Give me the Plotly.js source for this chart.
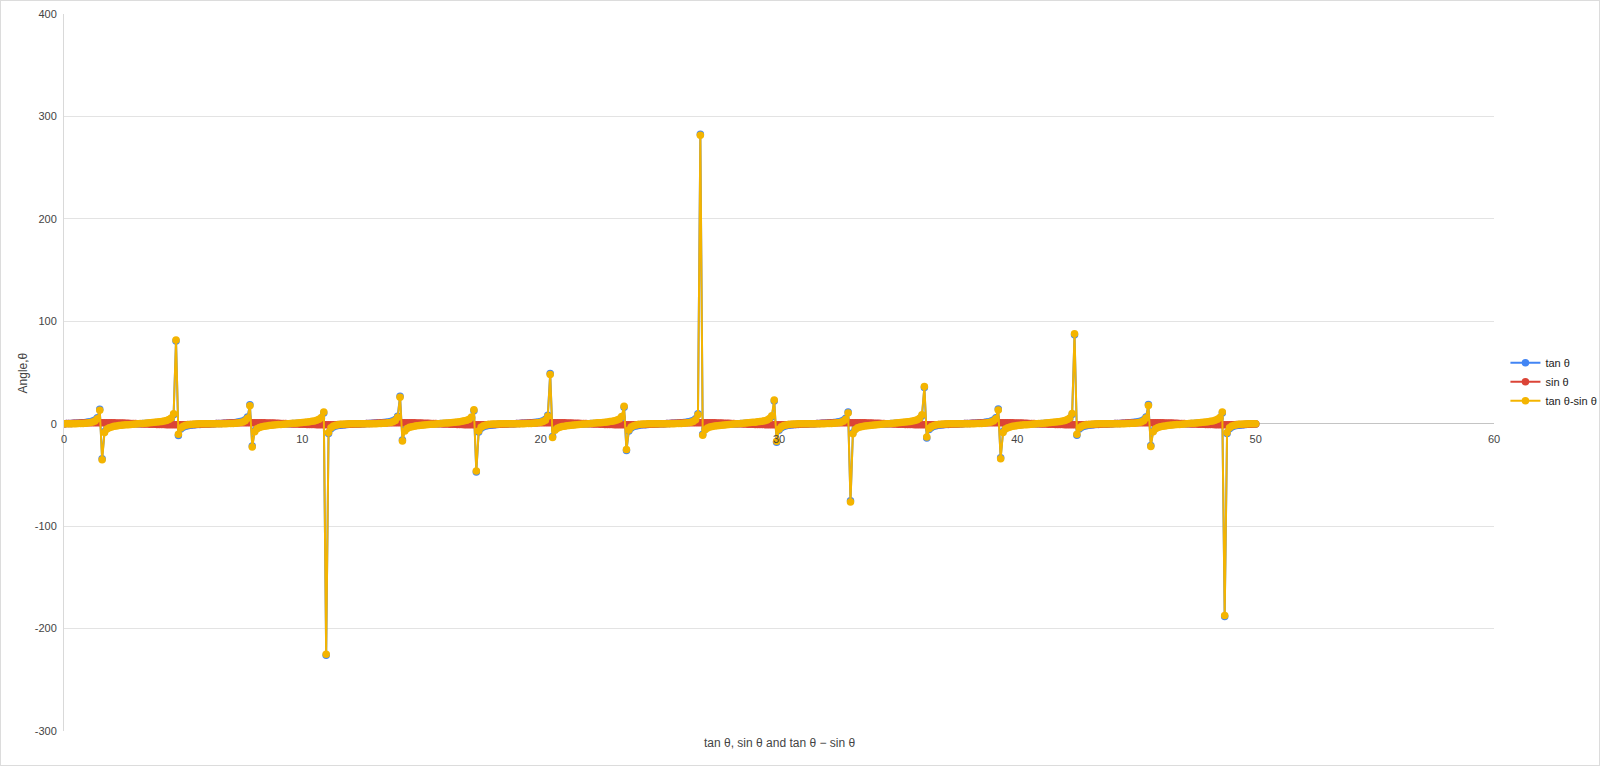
<!DOCTYPE html>
<html>
<head>
<meta charset="utf-8">
<script src="https://cdn.plot.ly/plotly-3.0.1.min.js"></script>
<style>
  body { margin: 0; background: #fff; }
  #chart { width: 1598px; height: 764px; border: 1px solid #dcdcdc; }
</style>
</head>
<body>
<div id="chart"></div>
<script>
// angle in radians, step 0.1
var theta = [
  0,0.1,0.2,0.3,0.4,0.5,0.6,0.7,0.8,0.9,
  1,1.1,1.2,1.3,1.4,1.5,1.6,1.7,1.8,1.9,
  2,2.1,2.2,2.3,2.4,2.5,2.6,2.7,2.8,2.9,
  3,3.1,3.2,3.3,3.4,3.5,3.6,3.7,3.8,3.9,
  4,4.1,4.2,4.3,4.4,4.5,4.6,4.7,4.8,4.9,
  5,5.1,5.2,5.3,5.4,5.5,5.6,5.7,5.8,5.9,
  6,6.1,6.2,6.3,6.4,6.5,6.6,6.7,6.8,6.9,
  7,7.1,7.2,7.3,7.4,7.5,7.6,7.7,7.8,7.9,
  8,8.1,8.2,8.3,8.4,8.5,8.6,8.7,8.8,8.9,
  9,9.1,9.2,9.3,9.4,9.5,9.6,9.7,9.8,9.9,
  10,10.1,10.2,10.3,10.4,10.5,10.6,10.7,10.8,10.9,
  11,11.1,11.2,11.3,11.4,11.5,11.6,11.7,11.8,11.9,
  12,12.1,12.2,12.3,12.4,12.5,12.6,12.7,12.8,12.9,
  13,13.1,13.2,13.3,13.4,13.5,13.6,13.7,13.8,13.9,
  14,14.1,14.2,14.3,14.4,14.5,14.6,14.7,14.8,14.9,
  15,15.1,15.2,15.3,15.4,15.5,15.6,15.7,15.8,15.9,
  16,16.1,16.2,16.3,16.4,16.5,16.6,16.7,16.8,16.9,
  17,17.1,17.2,17.3,17.4,17.5,17.6,17.7,17.8,17.9,
  18,18.1,18.2,18.3,18.4,18.5,18.6,18.7,18.8,18.9,
  19,19.1,19.2,19.3,19.4,19.5,19.6,19.7,19.8,19.9,
  20,20.1,20.2,20.3,20.4,20.5,20.6,20.7,20.8,20.9,
  21,21.1,21.2,21.3,21.4,21.5,21.6,21.7,21.8,21.9,
  22,22.1,22.2,22.3,22.4,22.5,22.6,22.7,22.8,22.9,
  23,23.1,23.2,23.3,23.4,23.5,23.6,23.7,23.8,23.9,
  24,24.1,24.2,24.3,24.4,24.5,24.6,24.7,24.8,24.9,
  25,25.1,25.2,25.3,25.4,25.5,25.6,25.7,25.8,25.9,
  26,26.1,26.2,26.3,26.4,26.5,26.6,26.7,26.8,26.9,
  27,27.1,27.2,27.3,27.4,27.5,27.6,27.7,27.8,27.9,
  28,28.1,28.2,28.3,28.4,28.5,28.6,28.7,28.8,28.9,
  29,29.1,29.2,29.3,29.4,29.5,29.6,29.7,29.8,29.9,
  30,30.1,30.2,30.3,30.4,30.5,30.6,30.7,30.8,30.9,
  31,31.1,31.2,31.3,31.4,31.5,31.6,31.7,31.8,31.9,
  32,32.1,32.2,32.3,32.4,32.5,32.6,32.7,32.8,32.9,
  33,33.1,33.2,33.3,33.4,33.5,33.6,33.7,33.8,33.9,
  34,34.1,34.2,34.3,34.4,34.5,34.6,34.7,34.8,34.9,
  35,35.1,35.2,35.3,35.4,35.5,35.6,35.7,35.8,35.9,
  36,36.1,36.2,36.3,36.4,36.5,36.6,36.7,36.8,36.9,
  37,37.1,37.2,37.3,37.4,37.5,37.6,37.7,37.8,37.9,
  38,38.1,38.2,38.3,38.4,38.5,38.6,38.7,38.8,38.9,
  39,39.1,39.2,39.3,39.4,39.5,39.6,39.7,39.8,39.9,
  40,40.1,40.2,40.3,40.4,40.5,40.6,40.7,40.8,40.9,
  41,41.1,41.2,41.3,41.4,41.5,41.6,41.7,41.8,41.9,
  42,42.1,42.2,42.3,42.4,42.5,42.6,42.7,42.8,42.9,
  43,43.1,43.2,43.3,43.4,43.5,43.6,43.7,43.8,43.9,
  44,44.1,44.2,44.3,44.4,44.5,44.6,44.7,44.8,44.9,
  45,45.1,45.2,45.3,45.4,45.5,45.6,45.7,45.8,45.9,
  46,46.1,46.2,46.3,46.4,46.5,46.6,46.7,46.8,46.9,
  47,47.1,47.2,47.3,47.4,47.5,47.6,47.7,47.8,47.9,
  48,48.1,48.2,48.3,48.4,48.5,48.6,48.7,48.8,48.9,
  49,49.1,49.2,49.3,49.4,49.5,49.6,49.7,49.8,49.9,
  50
];

var tanVals = [
  0,0.10,0.20,0.31,0.42,0.55,0.68,0.84,1.03,1.26,1.56,1.96,2.57,3.60,5.80,14.10,
  -34.23,-7.70,-4.29,-2.93,-2.19,-1.71,-1.37,-1.12,-0.92,-0.75,-0.60,-0.47,-0.36,-0.25,-0.14,-0.04,
  0.06,0.16,0.26,0.37,0.49,0.62,0.77,0.95,1.16,1.42,1.78,2.29,3.10,4.64,8.86,80.71,
  -11.39,-5.27,-3.38,-2.45,-1.89,-1.50,-1.22,-1.00,-0.81,-0.66,-0.52,-0.40,-0.29,-0.19,-0.08,
  0.02,0.12,0.22,0.33,0.44,0.57,0.71,0.87,1.06,1.30,1.62,2.05,2.71,3.85,6.44,18.51,
  -21.71,-6.80,-3.98,-2.77,-2.09,-1.65,-1.33,-1.08,-0.89,-0.72,-0.58,-0.45,-0.34,-0.23,-0.13,-0.02,
  0.08,0.18,0.28,0.39,0.51,0.65,0.80,0.98,1.20,1.48,1.85,2.39,3.28,5.05,10.43,
  -225.95,-9.54,-4.82,-3.18,-2.34,-1.81,-1.45,-1.18,-0.96,-0.79,-0.64,-0.50,-0.38,-0.27,-0.17,-0.07,
  0.03,0.13,0.24,0.35,0.46,0.59,0.74,0.90,1.10,1.35,1.68,2.14,2.85,4.14,7.24,26.89,
  -15.89,-6.09,-3.72,-2.63,-2.00,-1.58,-1.28,-1.05,-0.86,-0.70,-0.56,-0.43,-0.32,-0.21,-0.11,-0.01,
  0.09,0.19,0.30,0.41,0.54,0.67,0.83,1.01,1.24,1.53,1.93,2.51,3.49,5.53,12.67,
  -47.07,-8.21,-4.45,-3.01,-2.23,-1.74,-1.40,-1.14,-0.93,-0.76,-0.61,-0.48,-0.36,-0.25,-0.15,-0.05,
  0.05,0.15,0.26,0.37,0.48,0.61,0.76,0.93,1.14,1.40,1.75,2.24,3.01,4.46,8.27,49.13,
  -12.53,-5.51,-3.48,-2.51,-1.92,-1.53,-1.24,-1.01,-0.83,-0.67,-0.53,-0.41,-0.30,-0.19,-0.09,
  0.01,0.11,0.21,0.32,0.43,0.56,0.70,0.86,1.05,1.28,1.59,2.01,2.64,3.73,6.12,16.12,
  -26.27,-7.20,-4.12,-2.84,-2.13,-1.68,-1.35,-1.10,-0.90,-0.73,-0.59,-0.46,-0.35,-0.24,-0.13,-0.03,
  0.07,0.17,0.27,0.38,0.50,0.64,0.79,0.96,1.18,1.45,1.82,2.34,3.19,4.85,9.62,282.68,
  -10.33,-5.02,-3.27,-2.39,-1.85,-1.47,-1.20,-0.98,-0.80,-0.65,-0.51,-0.39,-0.28,-0.18,-0.07,
  0.03,0.13,0.23,0.34,0.45,0.58,0.72,0.89,1.08,1.33,1.65,2.10,2.78,4.00,6.84,22.14,
  -18.21,-6.41,-3.84,-2.70,-2.04,-1.61,-1.30,-1.06,-0.87,-0.71,-0.57,-0.44,-0.33,-0.22,-0.12,-0.02,
  0.08,0.19,0.29,0.40,0.53,0.66,0.82,1.00,1.22,1.50,1.89,2.46,3.39,5.29,11.50,
  -75.31,-8.79,-4.62,-3.09,-2.28,-1.77,-1.42,-1.16,-0.95,-0.77,-0.62,-0.49,-0.37,-0.26,-0.16,-0.06,
  0.04,0.14,0.25,0.36,0.47,0.60,0.75,0.92,1.12,1.38,1.71,2.19,2.94,4.30,7.75,35.31,
  -13.93,-5.77,-3.59,-2.57,-1.96,-1.55,-1.26,-1.03,-0.84,-0.68,-0.54,-0.42,-0.31,-0.20,-0.10,
  0.00,0.10,0.20,0.31,0.42,0.55,0.69,0.84,1.03,1.26,1.56,1.97,2.58,3.61,5.83,14.28,
  -33.22,-7.64,-4.27,-2.92,-2.18,-1.71,-1.37,-1.12,-0.91,-0.75,-0.60,-0.47,-0.35,-0.25,-0.14,-0.04,
  0.06,0.16,0.27,0.38,0.49,0.63,0.77,0.95,1.16,1.43,1.78,2.29,3.11,4.66,8.93,86.95,
  -11.27,-5.24,-3.37,-2.44,-1.88,-1.50,-1.21,-0.99,-0.81,-0.66,-0.52,-0.40,-0.29,-0.18,-0.08,
  0.02,0.12,0.22,0.33,0.44,0.57,0.71,0.87,1.07,1.31,1.62,2.05,2.71,3.87,6.48,18.82,
  -21.30,-6.76,-3.97,-2.77,-2.09,-1.64,-1.32,-1.08,-0.88,-0.72,-0.58,-0.45,-0.34,-0.23,-0.12,-0.02,
  0.08,0.18,0.28,0.39,0.52,0.65,0.80,0.98,1.20,1.48,1.85,2.40,3.29,5.07,10.53,
  -188.19,-9.46,-4.80,-3.17,-2.33,-1.81,-1.44,-1.17,-0.96,-0.78,-0.63,-0.50,-0.38,-0.27
];

var sinVals = [
  0,0.10,0.20,0.30,0.39,0.48,0.56,0.64,0.72,0.78,0.84,0.89,0.93,0.96,0.99,1.00,
  1.00,0.99,0.97,0.95,0.91,0.86,0.81,0.74,0.67,0.60,0.51,0.43,0.33,0.24,0.14,0.04,
  -0.06,-0.16,-0.26,-0.35,-0.44,-0.53,-0.61,-0.69,-0.76,-0.82,-0.87,-0.92,-0.95,-0.98,-0.99,-1.00,
  -1.00,-0.98,-0.96,-0.93,-0.88,-0.83,-0.77,-0.71,-0.63,-0.55,-0.46,-0.37,-0.28,-0.18,-0.08,
  0.02,0.12,0.21,0.31,0.40,0.49,0.58,0.66,0.73,0.79,0.85,0.90,0.94,0.97,0.99,1.00,
  1.00,0.99,0.97,0.94,0.90,0.85,0.80,0.73,0.66,0.58,0.50,0.41,0.32,0.22,0.12,0.02,
  -0.08,-0.17,-0.27,-0.37,-0.46,-0.54,-0.62,-0.70,-0.77,-0.83,-0.88,-0.92,-0.96,-0.98,-1.00,
  -1.00,-0.99,-0.98,-0.95,-0.92,-0.88,-0.82,-0.76,-0.69,-0.62,-0.54,-0.45,-0.36,-0.26,-0.17,-0.07,
  0.03,0.13,0.23,0.33,0.42,0.51,0.59,0.67,0.74,0.80,0.86,0.91,0.94,0.97,0.99,1.00,
  1.00,0.99,0.97,0.93,0.89,0.85,0.79,0.72,0.65,0.57,0.49,0.40,0.30,0.21,0.11,0.01,
  -0.09,-0.19,-0.29,-0.38,-0.47,-0.56,-0.64,-0.71,-0.78,-0.84,-0.89,-0.93,-0.96,-0.98,-1.00,
  -1.00,-0.99,-0.98,-0.95,-0.91,-0.87,-0.81,-0.75,-0.68,-0.60,-0.52,-0.43,-0.34,-0.25,-0.15,-0.05,
  0.05,0.15,0.25,0.34,0.43,0.52,0.60,0.68,0.75,0.81,0.87,0.91,0.95,0.98,0.99,1.00,
  1.00,0.98,0.96,0.93,0.89,0.84,0.78,0.71,0.64,0.56,0.47,0.38,0.29,0.19,0.09,
  -0.01,-0.11,-0.21,-0.30,-0.40,-0.49,-0.57,-0.65,-0.72,-0.79,-0.85,-0.90,-0.94,-0.97,-0.99,-1.00,
  -1.00,-0.99,-0.97,-0.94,-0.91,-0.86,-0.80,-0.74,-0.67,-0.59,-0.51,-0.42,-0.33,-0.23,-0.13,-0.03,
  0.07,0.17,0.26,0.36,0.45,0.54,0.62,0.69,0.76,0.82,0.88,0.92,0.95,0.98,0.99,1.00,
  1.00,0.98,0.96,0.92,0.88,0.83,0.77,0.70,0.62,0.54,0.46,0.37,0.27,0.17,0.07,
  -0.03,-0.13,-0.22,-0.32,-0.41,-0.50,-0.59,-0.66,-0.73,-0.80,-0.86,-0.90,-0.94,-0.97,-0.99,-1.00,
  -1.00,-0.99,-0.97,-0.94,-0.90,-0.85,-0.79,-0.73,-0.66,-0.58,-0.49,-0.40,-0.31,-0.21,-0.12,-0.02,
  0.08,0.18,0.28,0.37,0.47,0.55,0.63,0.71,0.77,0.83,0.88,0.93,0.96,0.98,1.00,
  1.00,0.99,0.98,0.95,0.92,0.87,0.82,0.76,0.69,0.61,0.53,0.44,0.35,0.25,0.16,0.06,
  -0.04,-0.14,-0.24,-0.34,-0.43,-0.52,-0.60,-0.68,-0.75,-0.81,-0.86,-0.91,-0.95,-0.97,-0.99,-1.00,
  -1.00,-0.99,-0.96,-0.93,-0.89,-0.84,-0.78,-0.72,-0.64,-0.56,-0.48,-0.39,-0.29,-0.20,-0.10,
  0.00,0.10,0.20,0.30,0.39,0.48,0.57,0.64,0.72,0.78,0.84,0.89,0.93,0.96,0.99,1.00,
  1.00,0.99,0.97,0.95,0.91,0.86,0.81,0.74,0.67,0.60,0.51,0.43,0.33,0.24,0.14,0.04,
  -0.06,-0.16,-0.26,-0.35,-0.44,-0.53,-0.61,-0.69,-0.76,-0.82,-0.87,-0.92,-0.95,-0.98,-0.99,-1.00,
  -1.00,-0.98,-0.96,-0.93,-0.88,-0.83,-0.77,-0.70,-0.63,-0.55,-0.46,-0.37,-0.28,-0.18,-0.08,
  0.02,0.12,0.22,0.31,0.41,0.49,0.58,0.66,0.73,0.79,0.85,0.90,0.94,0.97,0.99,1.00,
  1.00,0.99,0.97,0.94,0.90,0.85,0.80,0.73,0.66,0.58,0.50,0.41,0.32,0.22,0.12,0.02,
  -0.08,-0.18,-0.27,-0.37,-0.46,-0.54,-0.63,-0.70,-0.77,-0.83,-0.88,-0.92,-0.96,-0.98,-1.00,
  -1.00,-0.99,-0.98,-0.95,-0.92,-0.87,-0.82,-0.76,-0.69,-0.62,-0.54,-0.45,-0.36,-0.26
];

var tanMinusSin = [
  0,0.00,0.00,0.01,0.03,0.07,0.12,0.20,0.31,0.48,0.72,1.07,1.64,2.64,4.81,13.10,
  -35.23,-8.69,-5.26,-3.88,-3.10,-2.57,-2.18,-1.86,-1.59,-1.35,-1.11,-0.90,-0.69,-0.49,-0.28,-0.08,
  0.12,0.32,0.52,0.72,0.93,1.15,1.38,1.64,1.92,2.24,2.65,3.21,4.05,5.62,9.85,81.71,
  -10.39,-4.29,-2.42,-1.52,-1.01,-0.67,-0.45,-0.29,-0.18,-0.11,-0.06,-0.03,-0.01,-0.01,0.00,
  0.00,0.00,0.01,0.02,0.04,0.08,0.13,0.21,0.33,0.51,0.77,1.15,1.77,2.88,5.45,17.51,
  -22.71,-7.79,-4.95,-3.71,-2.99,-2.50,-2.13,-1.81,-1.55,-1.30,-1.08,-0.86,-0.66,-0.45,-0.25,-0.04,
  0.16,0.35,0.55,0.76,0.97,1.19,1.42,1.68,1.97,2.31,2.73,3.31,4.24,6.03,11.43,
  -224.95,-8.55,-3.84,-2.23,-1.42,-0.93,-0.63,-0.42,-0.27,-0.17,-0.10,-0.05,-0.02,-0.01,0.00,0.00,
  0.00,0.00,0.01,0.02,0.04,0.08,0.15,0.23,0.36,0.55,0.82,1.23,1.91,3.17,6.25,25.89,
  -16.89,-7.08,-4.69,-3.56,-2.89,-2.43,-2.07,-1.77,-1.51,-1.27,-1.05,-0.83,-0.62,-0.42,-0.22,-0.02,
  0.18,0.38,0.59,0.79,1.01,1.23,1.47,1.72,2.02,2.37,2.82,3.44,4.45,6.51,13.67,
  -46.07,-7.22,-3.47,-2.06,-1.32,-0.87,-0.59,-0.39,-0.25,-0.16,-0.09,-0.05,-0.02,0.00,0.00,0.00,
  0.00,0.00,0.01,0.03,0.05,0.09,0.16,0.25,0.39,0.59,0.88,1.33,2.06,3.48,7.28,48.13,
  -13.53,-6.49,-4.44,-3.44,-2.81,-2.37,-2.02,-1.72,-1.47,-1.23,-1.00,-0.79,-0.59,-0.38,-0.18,
  0.02,0.22,0.42,0.62,0.83,1.05,1.27,1.51,1.77,2.07,2.44,2.91,3.58,4.70,7.11,17.12,
  -25.27,-6.21,-3.15,-1.90,-1.22,-0.82,-0.55,-0.36,-0.23,-0.14,-0.08,-0.04,-0.02,-0.01,0.00,0.00,
  0.00,0.00,0.01,0.02,0.05,0.10,0.17,0.27,0.42,0.63,0.94,1.42,2.24,3.87,8.63,281.68,
  -11.33,-6.00,-4.23,-3.31,-2.73,-2.30,-1.97,-1.68,-1.42,-1.19,-0.97,-0.76,-0.55,-0.35,-0.14,
  0.06,0.26,0.45,0.66,0.86,1.08,1.31,1.55,1.81,2.13,2.51,3.00,3.72,4.97,7.83,23.14,
  -17.21,-5.42,-2.87,-1.76,-1.14,-0.76,-0.51,-0.33,-0.21,-0.13,-0.08,-0.04,-0.02,-0.01,0.00,0.00,
  0.00,0.01,0.01,0.03,0.06,0.11,0.19,0.29,0.45,0.67,1.01,1.53,2.43,4.31,10.50,
  -76.31,-9.78,-5.60,-4.04,-3.20,-2.64,-2.24,-1.92,-1.64,-1.38,-1.15,-0.93,-0.72,-0.51,-0.32,-0.12,
  0.08,0.28,0.49,0.70,0.90,1.12,1.35,1.60,1.87,2.19,2.57,3.10,3.89,5.27,8.74,36.31,
  -12.93,-4.78,-2.63,-1.64,-1.07,-0.71,-0.48,-0.31,-0.20,-0.12,-0.06,-0.03,-0.02,0.00,0.00,
  0.00,0.00,0.00,0.01,0.03,0.07,0.12,0.20,0.31,0.48,0.72,1.08,1.65,2.65,4.84,13.28,
  -34.22,-8.63,-5.24,-3.87,-3.09,-2.57,-2.18,-1.86,-1.58,-1.35,-1.11,-0.90,-0.68,-0.49,-0.28,-0.08,
  0.12,0.32,0.53,0.73,0.93,1.16,1.38,1.64,1.92,2.25,2.65,3.21,4.06,5.64,9.92,87.95,
  -10.27,-4.26,-2.41,-1.51,-1.00,-0.67,-0.44,-0.29,-0.18,-0.11,-0.06,-0.03,-0.01,0.00,0.00,
  0.00,0.00,0.00,0.02,0.03,0.08,0.13,0.21,0.34,0.52,0.77,1.15,1.77,2.90,5.49,17.82,
  -22.30,-7.75,-4.94,-3.71,-2.99,-2.49,-2.12,-1.81,-1.54,-1.30,-1.08,-0.86,-0.66,-0.45,-0.24,-0.04,
  0.16,0.36,0.55,0.76,0.98,1.19,1.43,1.68,1.97,2.31,2.73,3.32,4.25,6.05,11.53,
  -187.19,-8.47,-3.82,-2.22,-1.41,-0.94,-0.62,-0.41,-0.27,-0.16,-0.09,-0.05,-0.02,-0.01
];

var seriesNames = ['tan θ', 'sin θ', 'tan θ-sin θ'];
var seriesColors = ['#4285f4', '#db4437', '#f4b400'];
var xTicks = [0, 10, 20, 30, 40, 50, 60];
var yTicks = [-300, -200, -100, 0, 100, 200, 300, 400];

var allSeries = [tanVals, sinVals, tanMinusSin];
var data = [];
for (var i = 0; i < allSeries.length; i++) {
  data.push({
    x: theta,
    y: allSeries[i],
    name: seriesNames[i],
    type: 'scatter',
    mode: 'lines+markers',
    line: {color: seriesColors[i], width: 2},
    marker: {color: seriesColors[i], size: 7.5}
  });
}

var textColor = '#444444';

var layout = {
  width: 1598,
  height: 764,
  margin: {l: 63, r: 105, t: 13, b: 34, autoexpand: false},
  paper_bgcolor: '#ffffff',
  plot_bgcolor: '#ffffff',
  font: {family: 'Arial, "Liberation Sans", sans-serif', size: 11, color: textColor},
  showlegend: true,
  hovermode: false,
  xaxis: {
    range: [0, 60],
    tickvals: xTicks,
    ticktext: xTicks.map(String),
    showgrid: false,
    zeroline: false,
    showline: false,
    ticks: '',
    anchor: 'free',
    position: 300 / 700,
    ticklabelstandoff: 7,
    tickfont: {size: 11, color: textColor}
  },
  yaxis: {
    range: [-300, 400],
    tickvals: yTicks,
    ticktext: yTicks.map(String),
    showgrid: true,
    gridcolor: '#e3e3e3',
    gridwidth: 1,
    zeroline: true,
    zerolinecolor: '#c4c4c4',
    zerolinewidth: 1,
    showline: true,
    linecolor: '#d9d9d9',
    linewidth: 1,
    ticks: '',
    ticklabelstandoff: 4,
    tickfont: {size: 11, color: textColor}
  },
  legend: {
    x: 1.008,
    xanchor: 'left',
    y: 0.487,
    yanchor: 'middle',
    font: {size: 11, color: '#222222'},
    itemwidth: 30,
    bgcolor: 'rgba(0,0,0,0)'
  },
  annotations: [
    {
      text: 'tan θ, sin θ and tan θ − sin θ',
      xref: 'paper', yref: 'paper',
      x: 0.5, y: -0.017,
      xanchor: 'center', yanchor: 'middle',
      showarrow: false,
      font: {size: 12, color: textColor}
    },
    {
      text: 'Angle,θ',
      xref: 'paper', yref: 'paper',
      x: -0.0287, y: 0.5,
      xanchor: 'center', yanchor: 'middle',
      textangle: -90,
      showarrow: false,
      font: {size: 12, color: textColor}
    }
  ]
};

Plotly.newPlot('chart', data, layout, {displayModeBar: false, staticPlot: true});
</script>
</body>
</html>
